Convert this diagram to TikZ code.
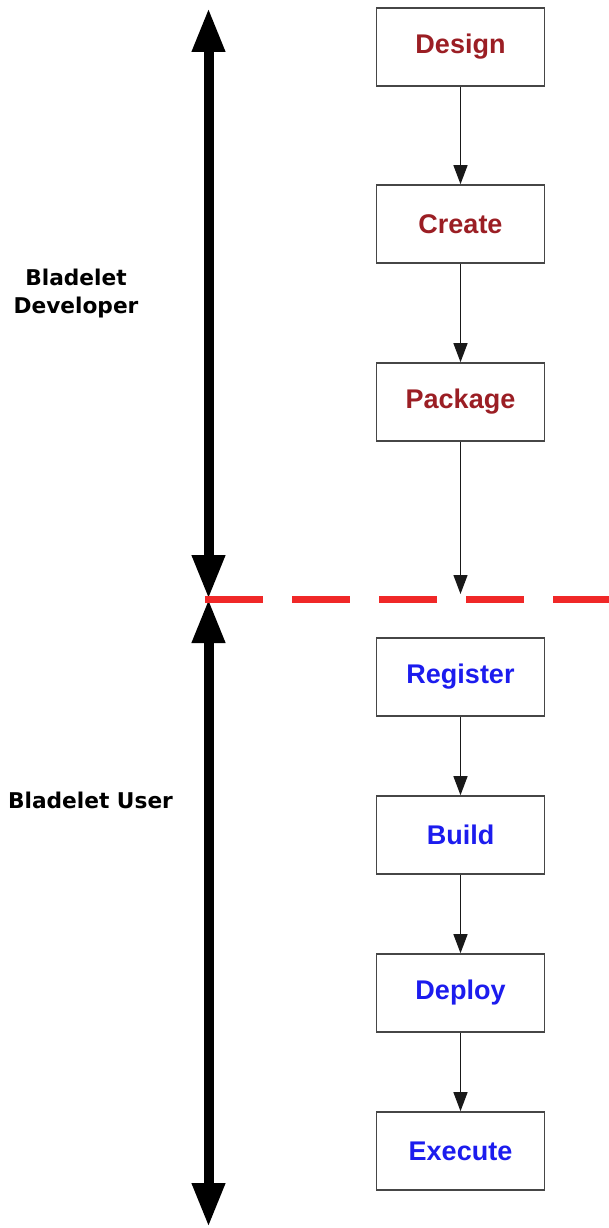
\documentclass[tikz,border=0pt]{standalone}
\usepackage{fontspec}
\setmainfont{Liberation Sans}
\newfontfamily\sidefont{DejaVu Sans}
\usetikzlibrary{arrows.meta}
\definecolor{devred}{RGB}{155,30,36}
\definecolor{userblue}{RGB}{28,28,238}
\definecolor{boxgray}{RGB}{70,70,70}
\definecolor{splitred}{RGB}{240,40,40}
\tikzset{
  stepbox/.style={draw=boxgray, line width=1.6pt, fill=white, minimum width=168pt, minimum height=78pt, inner sep=0pt, font=\fontsize{27}{30}\selectfont\bfseries},
  devbox/.style={stepbox, text=devred},
  userbox/.style={stepbox, text=userblue},
  flow/.style={draw=black!90, line width=1.3pt, -{Triangle[width=14pt,length=19pt]}},
  bigarrow/.style={line width=10pt, {Triangle[width=31pt,length=44pt]}-{Triangle[width=31pt,length=44pt]}},
  sidelabel/.style={font=\sidefont\fontsize{21.7}{28}\selectfont\bfseries, align=center, inner sep=0pt},
  split/.style={draw=splitred, line width=7pt, dash pattern=on 58pt off 29pt}
}
\begin{document}
\begin{tikzpicture}[x=1pt,y=-1pt]
\useasboundingbox (0,0) rectangle (609,1228);
% steps
\node[devbox] (design) at (460.5,47) {Design};
\node[devbox] (create) at (460.5,224) {Create};
\node[devbox] (package) at (460.5,402) {Package};
\node[userbox] (register) at (460.5,677) {Register};
\node[userbox] (build) at (460.5,835) {Build};
\node[userbox] (deploy) at (460.5,993) {Deploy};
\node[userbox] (execute) at (460.5,1151) {Execute};
\coordinate (pkgend) at (460.5,594);
% connectors
\draw[flow] (design) -- (create);
\draw[flow] (create) -- (package);
\draw[flow] (package) -- (pkgend);
\draw[flow] (register) -- (build);
\draw[flow] (build) -- (deploy);
\draw[flow] (deploy) -- (execute);
% big arrows
\coordinate (devtop) at (208.5,8);
\coordinate (mid) at (208.5,599);
\coordinate (userbot) at (208.5,1227);
\draw[bigarrow] (devtop) -- (mid);
\draw[bigarrow] (mid) -- (userbot);
% dashed split line
\coordinate (splitL) at (205,599);
\coordinate (splitR) at (612,599);
\draw[split] (splitL) -- (splitR);
% side labels
\node[sidelabel] (devlabel) at (76,294) {Bladelet\\Developer};
\node[sidelabel] (userlabel) at (90.5,800) {Bladelet User};
\end{tikzpicture}
\end{document}
